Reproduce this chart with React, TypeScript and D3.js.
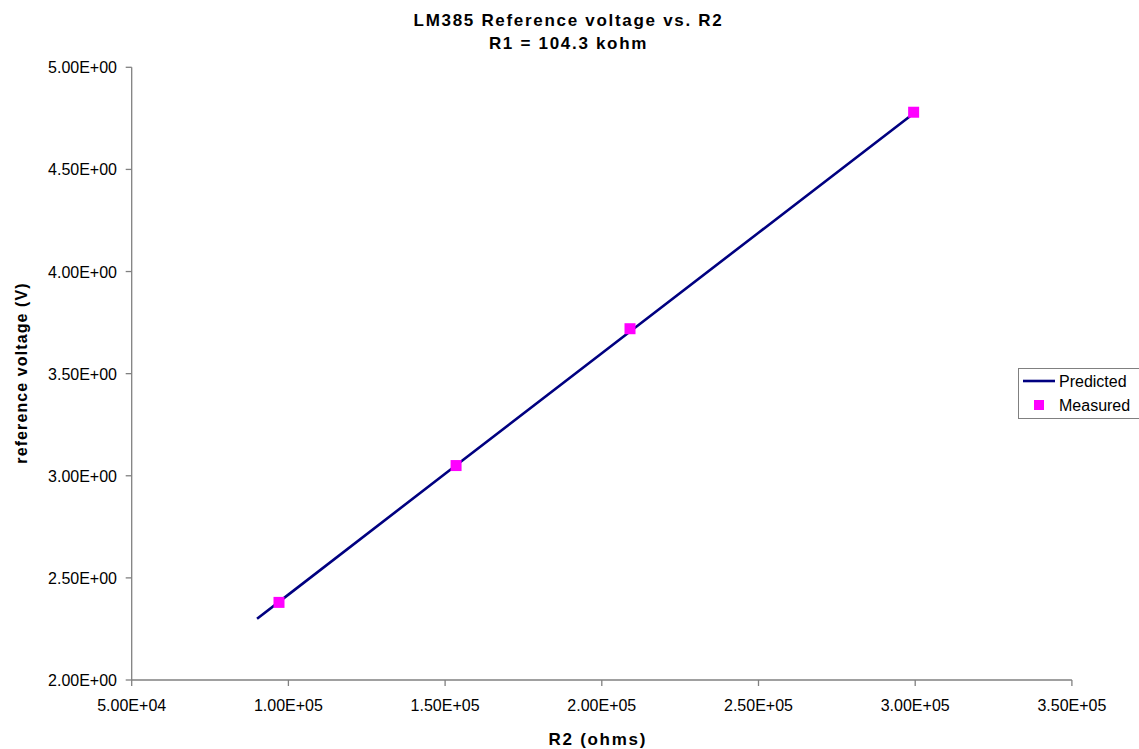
import React from "react";
import * as d3 from "d3";

const titleLines = ["LM385 Reference voltage vs. R2", "R1 = 104.3 kohm"];
const xTicks = [50000, 100000, 150000, 200000, 250000, 300000, 350000];
const yTicks = [2.0, 2.5, 3.0, 3.5, 4.0, 4.5, 5.0];

const predictedR2 = [90000, 100000, 150000, 200000, 250000, 300000];
const predictedV = [2.3, 2.418, 3.01, 3.6, 4.19, 4.78];

const measuredR2 = [97000, 153500, 209000, 299500];
const measuredV = [2.38, 3.05, 3.72, 4.78];

const legendItems = ["Predicted", "Measured"];

const W = 1139;
const H = 749;
const FONT = "Arial, 'Liberation Sans', sans-serif";

function sci(v: number): string {
  const e = Math.floor(Math.log10(Math.abs(v)));
  const m = v / Math.pow(10, e);
  const sign = e >= 0 ? "+" : "-";
  const ex = String(Math.abs(e)).padStart(2, "0");
  return `${m.toFixed(2)}E${sign}${ex}`;
}

export default function App() {
  const x = d3.scaleLinear().domain([50000, 350000]).range([131.7, 1071.9]);
  const y = d3.scaleLinear().domain([2, 5]).range([680, 67.3]);

  const line = d3
    .line<number>()
    .x((_, i) => x(predictedR2[i]))
    .y((d) => y(d));

  const axisColor = "#808080";
  const [x0, x1] = x.range();
  const [y0, y1] = y.range();

  return (
    <svg
      width={W}
      height={H}
      style={{ position: "absolute", left: 0, top: 0, background: "#fff" }}
      fontFamily={FONT}
    >
      <rect x={0} y={0} width={W} height={H} fill="#fff" />
      {/* title, centred on the chart area */}
      {titleLines.map((t, i) => (
        <text
          key={t}
          x={W / 2 - 1}
          y={26 + i * 23}
          textAnchor="middle"
          fontWeight="bold"
          fontSize={17}
          letterSpacing={1.7}
          fill="#000"
        >
          {t}
        </text>
      ))}

      {/* y axis */}
      <line x1={x0} x2={x0} y1={y0} y2={y1} stroke={axisColor} strokeWidth={1.3} />
      {yTicks.map((t) => (
        <g key={t}>
          <line x1={x0 - 6} x2={x0} y1={y(t)} y2={y(t)} stroke={axisColor} strokeWidth={1.3} />
          <text x={117} y={y(t) + 6} textAnchor="end" fontSize={16} fill="#000">
            {sci(t)}
          </text>
        </g>
      ))}

      {/* x axis */}
      <line x1={x0} x2={x1} y1={y0} y2={y0} stroke={axisColor} strokeWidth={1.3} />
      {xTicks.map((t) => (
        <g key={t}>
          <line x1={x(t)} x2={x(t)} y1={y0} y2={y0 + 6} stroke={axisColor} strokeWidth={1.3} />
          <text x={x(t)} y={711} textAnchor="middle" fontSize={16} fill="#000">
            {sci(t)}
          </text>
        </g>
      ))}

      {/* axis titles */}
      <text
        x={(x0 + x1) / 2 - 4}
        y={745}
        textAnchor="middle"
        fontWeight="bold"
        fontSize={17}
        letterSpacing={1.7}
        fill="#000"
      >
        R2 (ohms)
      </text>
      <text
        transform={`translate(27, ${373}) rotate(-90)`}
        textAnchor="middle"
        fontWeight="bold"
        fontSize={16}
        letterSpacing={1.1}
        fill="#000"
      >
        reference voltage (V)
      </text>

      {/* predicted line */}
      <path d={line(predictedV) || ""} fill="none" stroke="#000080" strokeWidth={2.6} />

      {/* measured markers */}
      {measuredR2.map((r, i) => (
        <rect
          key={r}
          x={x(r) - 5.5}
          y={y(measuredV[i]) - 5.5}
          width={11}
          height={11}
          fill="#FF00FF"
        />
      ))}

      {/* legend */}
      <rect x={1018.5} y={368.5} width={130} height={50} fill="#fff" stroke="#808080" strokeWidth={1} />
      <line x1={1023} x2={1055} y1={381} y2={381} stroke="#000080" strokeWidth={2.6} />
      <text x={1059} y={387} fontSize={16} fill="#000">
        {legendItems[0]}
      </text>
      <rect x={1034} y={400} width={10} height={10} fill="#FF00FF" />
      <text x={1059} y={411} fontSize={16} fill="#000">
        {legendItems[1]}
      </text>
    </svg>
  );
}
